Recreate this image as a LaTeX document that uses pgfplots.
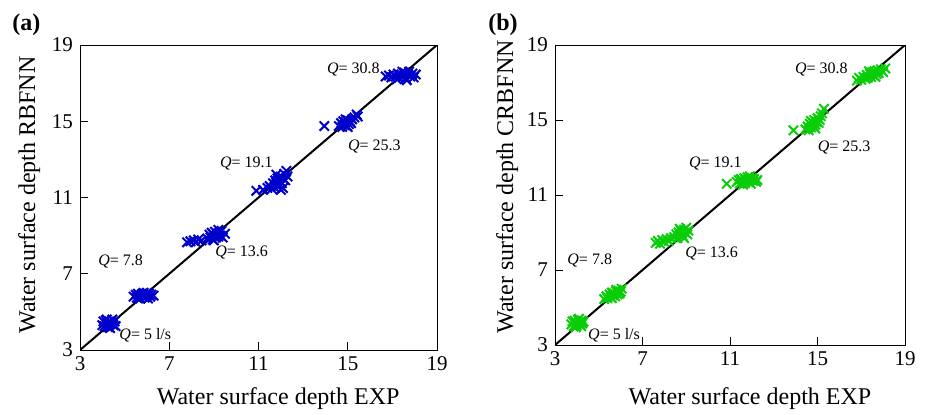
\documentclass[border=0pt]{standalone}
\usepackage{pgfplots}
\pgfplotsset{compat=1.18}
\usepackage{fontspec}
\setmainfont{Liberation Serif}

\definecolor{cblue}{RGB}{0,0,205}
\definecolor{cgreen}{RGB}{10,205,10}

\pgfplotsset{
  depth/.style={
    scale only axis,
    xmin=3, xmax=19, ymin=3, ymax=19,
    xtick={3,7,11,15,19}, ytick={3,7,11,15,19},
    tick align=inside,
    xtick pos=left, ytick pos=left,
    major tick length=4pt,
    tick style={black, line width=0.5pt},
    axis line style={line width=0.5pt},
    ticklabel style={font=\fontsize{10.5}{12}\selectfont},
    /pgf/number format/assume math mode=true,
    label style={font=\fontsize{12}{14}\selectfont},
    xlabel={Water surface depth EXP},
  },
  pts/.style={only marks, mark=x, mark size=3.3pt, line width=1pt},
}
\tikzset{ann/.style={font=\fontsize{8}{9}\selectfont, inner sep=0pt}}

\begin{document}
\begin{tikzpicture}
\path[use as bounding box] (0,0) rectangle (462.5pt,207pt);

% ---------------- (a) RBFNN ----------------
\begin{axis}[depth,
  at={(40pt,32pt)}, anchor=south west,
  width=178.5pt, height=152.5pt,
  ylabel={Water surface depth RBFNN},
  xlabel style={at={(axis description cs:0.555,0)}, anchor=base, yshift=-27pt},
  ylabel style={at={(axis description cs:0,0.508)}, anchor=base, yshift=22.5pt},
]
\addplot[black, line width=1pt] coordinates {(3,3) (19,19)};
\addplot[pts, cblue] coordinates {
 % Q = 5
 (4.0,4.3)(4.05,4.5)(4.1,4.25)(4.15,4.55)(4.2,4.4)(4.25,4.2)(4.3,4.5)(4.35,4.35)
 (4.4,4.45)(4.3,4.2)(4.45,4.6)(4.5,4.3)(4.55,4.5)(4.6,4.25)(4.2,4.6)(4.35,4.15)
 % Q = 7.8
 (5.4,5.8)(5.5,5.9)(5.55,5.75)(5.6,5.95)(5.65,5.85)(5.7,5.7)(5.75,5.9)(5.8,5.8)
 (5.85,6.0)(5.9,5.75)(5.95,5.9)(6.0,5.85)(6.05,5.7)(6.1,5.95)(6.15,5.8)(6.2,5.9)
 (6.3,5.85)(5.6,5.7)(6.0,6.0)(5.8,5.95)
 % Q = 13.6
 (7.8,8.65)(7.95,8.7)(8.1,8.75)(8.2,8.65)(8.3,8.8)(8.45,8.75)
 (8.7,8.85)(8.8,9.05)(8.85,8.9)(8.9,9.15)(8.95,8.8)(9.0,9.0)(9.05,9.2)(9.1,8.9)
 (9.15,9.1)(9.2,8.95)(9.25,9.15)(9.3,9.0)(9.35,9.25)(9.4,8.9)(9.5,9.1)(9.0,8.75)
 (9.2,9.3)(8.95,9.1)
 % Q = 19.1
 (10.9,11.35)(11.2,11.4)
 (11.4,11.5)(11.5,11.6)(11.6,11.45)(11.65,11.75)(11.7,11.55)(11.75,11.9)(11.8,11.7)
 (11.85,12.0)(11.9,11.6)(11.95,11.85)(12.0,12.1)(12.05,11.75)(12.1,12.0)(12.15,12.25)
 (12.2,11.9)(12.25,12.4)(12.1,11.5)(11.8,12.2)(12.0,11.4)(12.3,12.1)
 % Q = 25.3
 (13.95,14.75)
 (14.6,14.75)(14.7,14.9)(14.75,14.7)(14.8,15.0)(14.85,14.8)(14.9,14.95)(14.95,14.75)
 (15.0,15.05)(15.05,14.85)(15.1,15.0)(15.15,14.9)(15.2,15.1)(14.9,15.1)(15.0,14.7)
 (15.3,15.2)(15.4,15.35)(15.45,15.25)
 % Q = 30.8
 (16.7,17.35)(16.85,17.4)(16.95,17.3)(17.05,17.45)(17.15,17.35)(17.25,17.5)(17.3,17.3)
 (17.4,17.45)(17.5,17.35)(17.55,17.55)(17.6,17.25)(17.7,17.45)(17.75,17.6)(17.8,17.35)
 (17.9,17.5)(17.95,17.3)(18.05,17.45)(17.2,17.2)(17.65,17.15)(17.45,17.6)
};
\node[ann, anchor=east] at (axis cs:16.45,17.7) {\textit{Q}= 30.8};
\node[ann, anchor=west] at (axis cs:15.0,13.65) {\textit{Q}= 25.3};
\node[ann, anchor=east] at (axis cs:11.65,12.8) {\textit{Q}= 19.1};
\node[ann, anchor=west] at (axis cs:9.05,8.1) {\textit{Q}= 13.6};
\node[ann, anchor=west] at (axis cs:3.8,7.67) {\textit{Q}= 7.8};
\node[ann, anchor=west] at (axis cs:4.75,3.8) {\textit{Q}= 5 l/s};
\end{axis}

% ---------------- (b) CRBFNN ----------------
\begin{axis}[depth,
  at={(277.5pt,34.5pt)}, anchor=south west,
  width=175pt, height=150pt,
  ylabel={Water surface depth CRBFNN},
  xlabel style={at={(axis description cs:0.557,0)}, anchor=base, yshift=-29.5pt},
  ylabel style={at={(axis description cs:0,0.527)}, anchor=base, yshift=21pt},
]
\addplot[black, line width=1pt] coordinates {(3,3) (19,19)};
\addplot[pts, cgreen] coordinates {
 % Q = 5
 (3.75,4.1)(3.8,4.25)(3.85,4.0)(3.9,4.3)(3.95,4.15)(4.0,4.05)(4.05,4.35)(4.1,4.2)
 (4.15,4.1)(4.2,4.3)(4.25,4.15)(4.3,4.25)(3.95,3.95)(4.1,4.4)(4.2,4.0)
 % Q = 7.8
 (5.25,5.45)(5.35,5.6)(5.4,5.5)(5.5,5.7)(5.55,5.55)(5.6,5.8)(5.65,5.65)(5.7,5.75)
 (5.75,5.6)(5.8,5.85)(5.85,5.7)(5.9,5.9)(5.95,5.75)(6.0,5.85)(5.6,5.5)(5.8,5.95)
 (6.05,6.0)
 % Q = 13.6
 (7.6,8.45)(7.7,8.55)(7.8,8.4)(7.9,8.6)(8.0,8.5)(8.1,8.65)(8.2,8.55)(8.3,8.7)
 (8.45,8.75)(8.55,8.9)(8.6,8.7)(8.65,9.0)(8.7,8.85)(8.75,9.1)(8.8,8.95)(8.85,8.8)
 (8.9,9.15)(8.95,9.0)(9.0,9.25)(9.05,8.9)(9.1,9.1)(8.7,9.2)(8.9,8.7)
 % Q = 19.1
 (10.85,11.6)
 (11.3,11.7)(11.4,11.8)(11.45,11.6)(11.5,11.85)(11.6,11.7)(11.65,11.9)(11.7,11.65)
 (11.75,11.8)(11.8,11.95)(11.85,11.7)(11.9,11.85)(11.95,11.6)(12.0,11.9)(12.05,11.75)
 (12.1,11.85)(12.2,11.7)(12.25,11.8)(11.6,11.55)(11.9,12.0)
 % Q = 25.3
 (13.9,14.45)
 (14.45,14.5)(14.55,14.65)(14.6,14.45)(14.65,14.8)(14.7,14.6)(14.75,14.9)(14.8,14.7)
 (14.85,15.0)(14.9,14.75)(14.95,14.9)(15.0,15.1)(15.05,14.85)(15.1,15.0)(14.7,14.95)
 (14.9,14.55)(15.2,15.35)(15.3,15.6)(15.15,15.2)
 % Q = 30.8
 (16.8,17.1)(16.9,17.25)(17.0,17.15)(17.1,17.3)(17.2,17.2)(17.25,17.4)(17.3,17.25)
 (17.4,17.45)(17.45,17.3)(17.5,17.55)(17.55,17.4)(17.6,17.6)(17.7,17.45)(17.75,17.65)
 (17.8,17.5)(17.9,17.7)(18.0,17.55)(18.1,17.75)(17.35,17.6)(17.65,17.3)
};
\node[ann, anchor=east] at (axis cs:16.4,17.7) {\textit{Q}= 30.8};
\node[ann, anchor=west] at (axis cs:15.0,13.56) {\textit{Q}= 25.3};
\node[ann, anchor=east] at (axis cs:11.55,12.7) {\textit{Q}= 19.1};
\node[ann, anchor=west] at (axis cs:8.94,7.9) {\textit{Q}= 13.6};
\node[ann, anchor=west] at (axis cs:3.55,7.5) {\textit{Q}= 7.8};
\node[ann, anchor=west] at (axis cs:4.5,3.53) {\textit{Q}= 5 l/s};
\end{axis}

% panel labels
\node[anchor=base west, inner sep=0pt, font=\fontsize{12}{14}\selectfont\bfseries] at (6pt,192pt) {(a)};
\node[anchor=base west, inner sep=0pt, font=\fontsize{12}{14}\selectfont\bfseries] at (244pt,192pt) {(b)};
\end{tikzpicture}
\end{document}
